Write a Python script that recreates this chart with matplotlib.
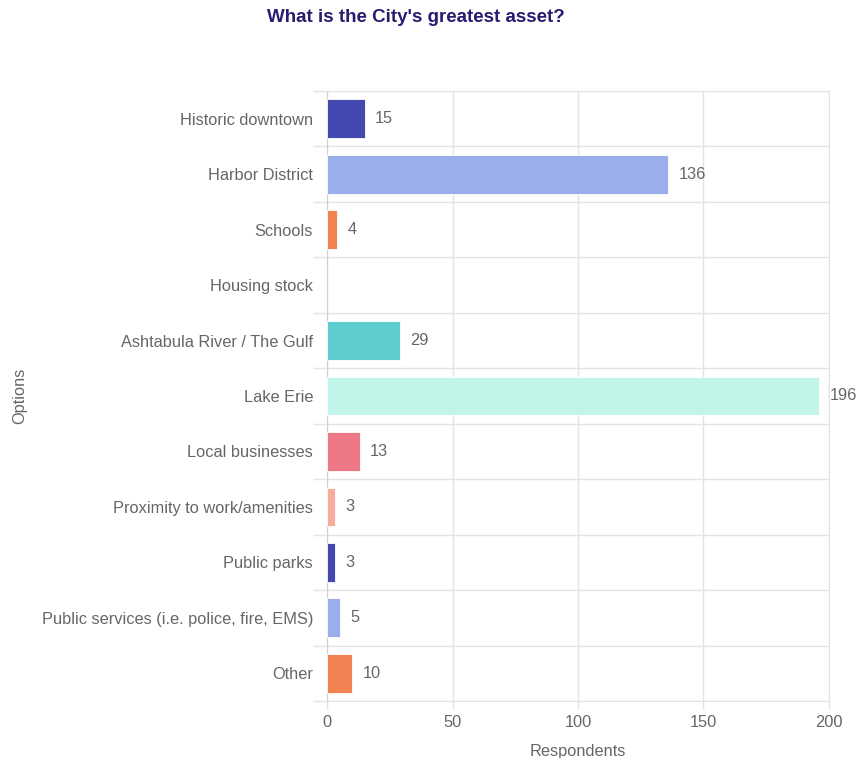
import matplotlib
matplotlib.use("Agg")
import matplotlib.pyplot as plt

plt.rcParams["font.family"] = ["Liberation Sans", "DejaVu Sans"]

# Data
categories = [
    "Historic downtown",
    "Harbor District",
    "Schools",
    "Housing stock",
    "Ashtabula River / The Gulf",
    "Lake Erie",
    "Local businesses",
    "Proximity to work/amenities",
    "Public parks",
    "Public services (i.e. police, fire, EMS)",
    "Other",
]
values = [15, 136, 4, 0, 29, 196, 13, 3, 3, 5, 10]
bar_colors = [
    "#4449b1", "#99aeeb", "#f08351", "#f08351", "#5dcdcf", "#c1f5ea",
    "#ee7786", "#f6ab9b", "#4449b1", "#99aeeb", "#f08351",
]
x_ticks = [0, 50, 100, 150, 200]

TEXT = "#666666"
GRID = "#e3e3e3"
FS = 11.8

fig = plt.figure(figsize=(8.59, 7.58), dpi=100)
ax = fig.add_axes([327 / 859, 1 - 701 / 758, (829 - 327) / 859, (701 - 91) / 758])

n = len(categories)
ypos = list(range(n))
ax.barh(ypos, values, height=0.7, color=bar_colors, edgecolor="white",
        linewidth=[0.6 if v > 0 else 0 for v in values], zorder=3)

for y, v in zip(ypos, values):
    if v > 0:
        ax.text(v + 4.2, y, str(v), va="center", ha="left",
                fontsize=FS, color=TEXT)

ax.set_ylim(n - 0.5, -0.5)
ax.set_xlim(0, 200)
ax.set_yticks(ypos)
ax.set_yticklabels(categories, fontsize=FS, color=TEXT)
ax.set_xticks(x_ticks)
ax.set_xticklabels([str(t) for t in x_ticks], fontsize=FS, color=TEXT)

# category boundary gridlines
ax.set_yticks([i - 0.5 for i in range(n + 1)], minor=True)
ax.grid(True, axis="y", which="minor", color=GRID, linewidth=1, zorder=0)
ax.grid(True, axis="x", which="major", color=GRID, linewidth=1, zorder=0)
ax.tick_params(axis="y", which="major", length=0, pad=10)
ax.tick_params(axis="y", which="minor", length=10, color=GRID, width=1)
ax.tick_params(axis="x", which="major", length=6, color=GRID, width=1, pad=4)

for side in ["top", "right", "bottom"]:
    ax.spines[side].set_color(GRID)
ax.spines["left"].set_color("#d0d0d0")

ax.set_xlabel("Respondents", fontsize=FS, color=TEXT, labelpad=10)
ax.set_ylabel("Options", fontsize=FS, color=TEXT, labelpad=0)
ax.yaxis.set_label_coords(-0.597, 0.5)

fig.text(416 / 859, 1 - 17 / 758, "What is the City's greatest asset?",
         ha="center", va="center", fontsize=13.5, fontweight="bold",
         color="#2b1a6f")

fig.savefig("out.png", dpi=100)
